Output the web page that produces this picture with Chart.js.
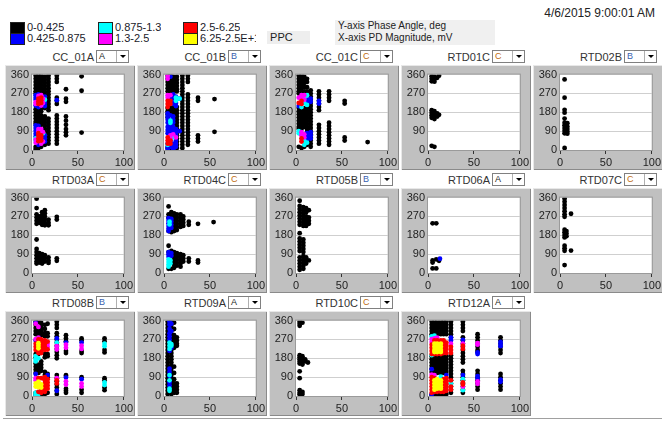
<!DOCTYPE html>
<html>
<head>
<meta charset="utf-8">
<script src="https://cdn.jsdelivr.net/npm/chart.js@4.4.1/dist/chart.umd.min.js"></script>
<style>
  body{margin:0;background:#fff;font-family:"Liberation Sans",Arial,sans-serif;}
  #page{position:relative;width:662px;height:421px;overflow:hidden;}
  .abs{position:absolute;}
  .sw{position:absolute;width:13px;height:10px;border:1px solid #222;}
  .lg{position:absolute;font-size:11px;color:#1a1a2a;line-height:12px;white-space:nowrap;overflow:hidden;}
  .ttl{position:absolute;width:80px;text-align:right;font-size:11px;color:#333;line-height:13px;}
  .dd{position:absolute;width:31px;height:11px;border:1px solid #808080;background:#fff;}
  .dd span{position:absolute;left:2px;top:0;font-size:9px;line-height:11px;}
  .dd i{position:absolute;right:0;top:0;width:11px;height:11px;border-left:1px solid #b0b0b0;}
  .dd i:after{content:"";position:absolute;left:3px;top:4px;border-left:3px solid transparent;border-right:3px solid transparent;border-top:3px solid #000;}
  .frame{position:absolute;width:130px;height:105px;background:#c0c0c0;box-shadow:inset 1px 1px 0 #e8e8e8, inset -1px -1px 0 #8a8a8a;}
  .frame canvas{position:absolute;left:0;top:0;}
</style>
</head>
<body>
<div id="page"></div>
<script>
// colour classes (PPC ranges)
const colorKeys = ["k", "b", "c", "m", "r", "y"];
const colorFill = { k: "#000000", b: "#0000ff", c: "#00ffff", m: "#ff00ff", r: "#ff0000", y: "#ffff00" };
const legendLabels = ["0-0.425", "0.425-0.875", "0.875-1.3", "1.3-2.5", "2.5-6.25", "6.25-2.5E+1"];

const panelNames = ["CC_01A", "CC_01B", "CC_01C", "RTD01C", "RTD02B",
                    "RTD03A", "RTD04C", "RTD05B", "RTD06A", "RTD07C",
                    "RTD08B", "RTD09A", "RTD10C", "RTD12A"];
const phaseSel = ["A", "B", "C", "C", "B", "C", "C", "B", "A", "C", "B", "A", "C", "A"];
const xTicks = [0, 50, 100];
const yTicks = [0, 90, 180, 270, 360];

// each entry: [PD magnitude mV, [phase angles deg]]
const cc01a = {
  k: [[4, [355, 340, 325, 310, 295, 280, 270, 195, 180, 165, 150, 135, 125, 15, 5]],
      [7, [355, 340, 325, 310, 295, 280, 270, 195, 180, 165, 150, 135, 125, 10]],
      [10, [355, 340, 325, 310, 295, 280, 270, 200, 185, 165, 150, 135, 120, 15]],
      [14, [350, 335, 320, 305, 290, 275, 260, 245, 230, 215, 200, 160, 145, 130, 115, 100, 85, 70, 55, 40, 25]],
      [18, [355, 340, 325, 310, 295, 280, 265, 250, 235, 220, 205, 190, 150, 135, 120, 105, 90, 75, 60, 45, 30]],
      [27, [355, 340, 325, 250, 235, 220, 165, 150, 135, 120, 105, 90, 75, 60, 45, 30]],
      [37, [290, 245, 230, 160, 140, 120, 100, 85, 70]],
      [54, [352, 283, 83]]],
  b: [[4, [262, 250, 240, 212, 118, 105, 92, 78, 65]], [14, [255, 240, 225, 210, 70, 55, 40]],
      [7, [265, 205, 115, 25]], [27, [238]]],
  c: [[4, [55, 45]], [12, [80]], [14, [240]]],
  m: [[4, [228, 220, 50, 35]], [7, [258, 100, 90]], [10, [262, 212, 100, 30]], [12, [245, 225, 85, 40]]],
  r: [[7, [245, 232, 220, 80, 68, 55, 42]], [10, [250, 238, 225, 70, 58, 45]]]
};
const cc01b = {
  k: [[4, [355, 340, 325, 310, 295, 280, 200, 185, 170, 155, 10]],
      [7, [355, 340, 325, 310, 295, 280, 270, 200, 185, 170, 10]],
      [10, [350, 335, 320, 305, 290, 275, 200, 190, 175, 160, 145, 130, 120, 15]],
      [14, [350, 335, 320, 305, 290, 280, 205, 190, 175, 160, 145, 130, 115, 100, 85, 70, 55, 40, 25, 10]],
      [20, [355, 340, 325, 310, 295, 280, 265, 250, 235, 220, 205, 190, 175, 160, 145, 130, 115, 100, 85, 70, 55, 40, 25, 10]],
      [26, [355, 340, 325, 265, 250, 235, 220, 205, 190, 175, 160, 145, 130, 115, 100, 85, 70, 55, 40, 25]],
      [37, [250, 235, 70, 55, 40]],
      [55, [243, 87]]],
  b: [[7, [350, 250, 165, 140, 110, 95, 80, 45, 30, 15]],
      [10, [265, 250, 235, 220, 160, 145, 130, 110, 95, 80, 30, 15, 5]],
      [13, [255, 240, 225, 210, 100, 85, 70, 45, 30, 15]],
      [4, [175, 160, 145, 130, 110, 95, 80, 30, 15, 5]], [17, [245, 90]]],
  c: [[13, [250, 235]], [17, [245]], [7, [140, 130]], [4, [25]], [10, [60]]],
  m: [[4, [355, 340, 262, 250]], [7, [262, 70, 55]], [10, [75]], [13, [60]]],
  r: [[4, [235, 220, 205, 60, 45, 30]], [7, [235, 220, 45, 30]]]
};
const cc01c = {
  k: [[3, [355, 340, 325, 310, 295, 280, 270, 200, 185, 170, 155, 140, 125, 110, 100, 15]],
      [6, [355, 340, 325, 310, 295, 280, 270, 200, 185, 170, 155, 140, 125, 110, 100, 10]],
      [9, [350, 335, 320, 300, 280, 270, 200, 185, 170, 155, 140, 125, 110, 15]],
      [12, [340, 325, 300, 280, 200, 185, 170, 155, 140, 125, 110, 100, 85, 70, 55, 40, 25]],
      [16, [285, 270, 255, 240, 225, 210, 195, 180, 165, 150, 135, 120, 105, 90, 75, 60, 45, 30, 15]],
      [25, [280, 265, 250, 235, 220, 205, 190, 120, 105, 90, 75, 60, 45, 30]],
      [36, [280, 265, 250, 235, 130, 115, 100, 85, 70, 55, 40, 25]],
      [53, [235, 222, 60, 45]],
      [78, [38]]],
  b: [[12, [240, 230, 80, 65, 50]], [16, [245, 230, 85, 70, 55]], [25, [235, 222]], [3, [210]]],
  c: [[9, [250, 225, 45, 25]], [12, [262, 215, 35]], [3, [90, 80]], [6, [205]]],
  m: [[6, [262, 250, 85, 70]], [9, [262, 240, 75, 60]], [3, [250]]],
  r: [[6, [235, 220, 55, 40]], [3, [225]]]
};
const rtd01c = {
  k: [[4, [352, 340, 328, 190, 178, 166, 154, 20]], [7, [350, 338, 326, 185, 172, 160, 148, 15]],
      [10, [345, 175, 160]], [12, [355, 168]]]
};
const rtd02b = {
  k: [[5, [337, 250, 192, 178, 150, 130, 118, 105, 92, 80, 10]], [8, [128, 112, 100, 88, 78]]]
};
const rtd03a = {
  k: [[5, [355, 310, 280, 265, 250, 235, 160, 115, 100, 85, 70, 55, 45]],
      [8, [270, 255, 240, 95, 80, 65, 50]],
      [11, [290, 275, 260, 245, 230, 90, 75, 60, 45]],
      [14, [300, 285, 270, 255, 240, 228, 85, 70, 55]],
      [18, [255, 240, 228, 75, 60, 48]],
      [27, [268, 255, 70, 58]]]
};
const rtd04c = {
  k: [[5, [318, 280, 265, 200, 130, 100, 20]], [8, [290, 270, 200, 195, 105, 20]],
      [11, [285, 270, 255, 240, 225, 210, 200, 100, 85, 70, 55, 40, 25]],
      [14, [280, 265, 250, 235, 220, 205, 95, 80, 65, 50, 35]],
      [18, [280, 265, 250, 235, 220, 90, 75, 60, 45, 30]],
      [21, [270, 255, 240, 225, 85, 70, 55]],
      [27, [245, 230, 70, 55]], [37, [235, 60, 50]], [54, [243]]],
  b: [[5, [262, 250, 238, 225, 212, 200, 100, 90, 78]], [8, [258, 245, 230, 215, 95, 82]]],
  c: [[6, [245, 232]], [5, [65, 52, 40, 30]], [7, [60, 45]]]
};
const rtd05b = {
  k: [[4, [345, 320, 305, 290, 275, 260, 245, 230, 190, 165, 150, 135, 120, 105, 75, 60, 45, 30, 15]],
      [8, [315, 300, 285, 270, 255, 240, 225, 160, 145, 130, 115, 100, 80, 65, 50, 35, 20]],
      [11, [310, 290, 270, 255, 240, 225, 75, 60, 45]],
      [14, [300, 265, 250, 235, 60]]]
};
const rtd06a = {
  k: [[5, [237, 60, 50, 22]], [9, [237, 65, 22]], [12, [58]]],
  b: [[13, [68]]]
};
const rtd07c = {
  k: [[5, [355, 340, 325, 310, 295, 280, 268, 207, 195, 182, 170, 130, 118, 106, 38]],
      [7, [200, 188, 176]], [12, [283, 107]]]
};
const rtd08b = {
  k: [[4, [355, 340, 325, 310, 295, 200, 185, 155, 140, 125, 110, 15, 5]],
      [7, [355, 330, 315, 300, 290, 200, 150, 135, 120, 110, 10]],
      [10, [350, 335, 320, 305, 290, 165, 150, 135, 120, 5]],
      [14, [340, 320, 300, 285, 200, 185, 115, 100, 10]],
      [17, [345, 300, 285, 200, 190, 105, 90, 15]],
      [27, [355, 340, 325, 300, 285, 270, 255, 240, 225, 210, 195, 180, 100, 85, 70, 55, 40, 25, 10]],
      [37, [290, 275, 262, 215, 205, 100, 95, 35, 25, 15]],
      [54, [275, 265, 215, 205, 90, 30, 15]],
      [79, [275, 262, 220, 208, 85, 75, 40, 28]]],
  b: [[4, [350, 265, 105]], [27, [275, 25]], [37, [255, 88]], [54, [255, 80]], [17, [100]]],
  c: [[4, [190, 175, 165, 15, 5]], [7, [180, 10]], [27, [255]], [79, [250, 238, 65, 52]]],
  m: [[4, [345, 272, 85, 75]], [7, [278, 330]], [17, [250, 235]], [27, [238, 222, 85]],
      [37, [245, 230, 70, 55]], [54, [240, 225, 60, 45]]],
  r: [[4, [250, 235, 220]], [7, [270, 215, 205, 85, 20]],
      [10, [270, 260, 245, 230, 215, 205, 85, 25, 15]],
      [14, [265, 250, 235, 220, 90, 75, 60, 45, 30, 20]],
      [17, [260, 222, 80, 65, 50, 35]], [27, [75, 60]]],
  y: [[7, [252, 240, 228, 68, 55, 42]], [10, [55, 40]], [4, [60, 45]]]
};
const rtd09a = {
  k: [[4, [355, 340, 325, 310, 295, 280, 265, 250, 235, 220, 205, 190, 175, 160, 145, 130, 115, 100, 85, 70, 55, 40, 25, 10]],
      [8, [355, 340, 325, 310, 295, 280, 265, 250, 235, 220, 205, 190, 175, 160, 145, 130, 115, 100, 85, 70, 55, 40, 25, 10]],
      [11, [350, 320, 290, 275, 260, 245, 230, 140, 110, 80, 60, 45, 30, 15]],
      [14, [280, 265, 250, 240, 60, 45, 30, 15]]],
  b: [[6, [355, 340, 320, 300, 285, 270, 215, 130, 115, 95, 65, 50]], [8, [345, 310, 230]]],
  c: [[6, [255, 240, 225, 100, 75, 35, 25]], [8, [248, 240]]]
};
const rtd10c = {
  k: [[4, [355, 345, 335, 195, 185, 175, 165, 155, 118, 85, 28, 15, 8]],
      [7, [350, 190, 180, 170, 160, 150, 20, 10]], [10, [175, 165]], [13, [160]]]
};
const rtd12a = {
  k: [[4, [355, 340, 325, 310, 295, 190, 175, 160, 145, 130, 115, 5]],
      [7, [355, 340, 325, 310, 295, 180, 165, 150, 135, 120, 5]],
      [10, [355, 340, 325, 310, 295, 185, 170, 155, 140, 125, 110, 5]],
      [14, [355, 340, 325, 310, 295, 185, 170, 155, 140, 125, 110, 5]],
      [17, [355, 340, 325, 310, 295, 185, 170, 155, 140, 125, 110, 10]],
      [20, [355, 340, 325, 310, 295, 190, 175, 160, 145, 130, 115, 10]],
      [25, [355, 340, 325, 310, 295, 280, 195, 180, 165, 150, 135, 120, 105, 90, 75, 60, 45, 30, 15]],
      [38, [355, 340, 325, 310, 280, 265, 250, 235, 220, 205, 190, 175, 160, 120, 105, 90, 75, 60, 45, 30, 15]],
      [54, [295, 280, 265, 250, 235, 220, 210, 120, 105, 90, 75, 60, 45, 30]],
      [79, [280, 265, 250, 235, 220, 205, 105, 90, 75, 60, 45, 30]]],
  b: [[25, [278, 265]], [38, [268, 100]], [54, [208, 200, 95, 85]], [79, [258, 248, 238, 78, 68]],
      [4, [128, 8]], [20, [100]]],
  c: [[4, [285, 195]], [7, [288, 90]], [14, [92]], [25, [60]], [38, [80, 28]]],
  m: [[4, [272, 258, 102]], [7, [275, 100]], [10, [278]], [25, [250]], [38, [250, 45]],
      [54, [252, 245, 70, 58]]],
  r: [[4, [245, 230, 215, 200, 90, 75, 60, 45, 30, 15]], [7, [265, 200, 85, 20]], [10, [265, 200, 20]],
      [14, [265, 200, 20]], [17, [265, 250, 235, 220, 205, 80, 65, 50, 35, 20]],
      [20, [255, 240, 225, 205, 85, 70, 55, 40, 25]], [25, [235, 220, 205, 75, 45, 30]],
      [38, [240, 225, 65, 55]]],
  y: [[7, [250, 235, 220, 210, 75, 60, 45, 30]], [10, [250, 235, 220, 210, 80, 65, 50, 35]],
      [14, [250, 235, 220, 210, 75, 60, 45, 35]]]
};

const panels = [cc01a, cc01b, cc01c, rtd01c, rtd02b, rtd03a, rtd04c, rtd05b, rtd06a, rtd07c,
                rtd08b, rtd09a, rtd10c, rtd12a];

const page = document.getElementById("page");
const FONT = "'Liberation Sans', Arial, sans-serif";

function el(cls, css, html){
  const d = document.createElement("div");
  if(cls) d.className = cls;
  Object.assign(d.style, css);
  if(html !== undefined) d.innerHTML = html;
  page.appendChild(d);
  return d;
}

function toPoints(cols){
  const pts = [];
  (cols || []).forEach(([x, ys]) => ys.forEach(y => pts.push({ x: x, y: y })));
  return pts;
}

/* legend + header */
const swX = [10, 98, 183];
const swY = [22, 33];
legendLabels.forEach((lab, i) => {
  const c = Math.floor(i / 2), r = i % 2;
  el("sw", { left: swX[c] + "px", top: swY[r] + "px", background: colorFill[colorKeys[i]] });
  el("lg", { left: (swX[c] + 17) + "px", top: (swY[r] - 1) + "px", width: i == 5 ? "56px" : "auto" }, lab);
});
el("abs", { left: "267px", top: "31px", width: "43px", height: "13px", background: "#eeeeee",
            fontSize: "11px", lineHeight: "12px", color: "#222" }, "&nbsp;PPC");
el("abs", { left: "335px", top: "20px", width: "160px", height: "25px", background: "#f0f0f0",
            fontSize: "10px", lineHeight: "12px", color: "#222", paddingLeft: "3px", boxSizing: "border-box" },
   "Y-axis Phase Angle, deg<br>X-axis PD Magnitude, mV");
el("abs", { right: "7px", top: "6px", fontSize: "12px", color: "#222" }, "4/6/2015 9:00:01 AM");
el("abs", { left: "3px", top: "418px", width: "659px", height: "1px", background: "#a0a0a0" });

/* plot area background and border */
const plotBg = {
  id: "plotBg",
  beforeDraw(chart){
    const { ctx, chartArea: a } = chart;
    ctx.save();
    ctx.fillStyle = "#ffffff";
    ctx.fillRect(a.left, a.top, a.right - a.left, a.bottom - a.top);
    ctx.restore();
  },
  afterDraw(chart){
    const { ctx, chartArea: a } = chart;
    ctx.save();
    ctx.strokeStyle = "#9a9a9a";
    ctx.lineWidth = 1;
    ctx.strokeRect(a.left - 0.5, a.top - 0.5, a.right - a.left + 1, a.bottom - a.top + 1);
    ctx.restore();
  }
};

const frameLeft = [5, 137, 269, 401, 533];
const frameTop = [65, 188, 311];

panels.forEach((data, i) => {
  const row = Math.floor(i / 5), col = i % 5;
  const L = frameLeft[col], T = frameTop[row];

  el("ttl", { left: (L + 9) + "px", top: (T - 14) + "px" }, panelNames[i]);
  const ph = phaseSel[i];
  const phColor = ph == "A" ? "#222" : (ph == "B" ? "#3a5fb0" : "#c06a10");
  el("dd", { left: (L + 91) + "px", top: (T - 15) + "px" },
     `<span style="color:${phColor}">${ph}</span><i></i>`);

  const fr = el("frame", { left: L + "px", top: T + "px" });
  const cv = document.createElement("canvas");
  cv.width = 130; cv.height = 105;
  fr.appendChild(cv);

  new Chart(cv, {
    type: "scatter",
    data: {
      datasets: colorKeys.map((k, j) => ({
        data: toPoints(data[k]),
        backgroundColor: colorFill[k],
        borderWidth: 0,
        pointRadius: 2.4,
        order: colorKeys.length - j
      }))
    },
    options: {
      responsive: false,
      animation: false,
      events: [],
      layout: { padding: { top: 6, right: 9, left: 0, bottom: 0 } },
      plugins: { legend: { display: false }, tooltip: { enabled: false } },
      scales: {
        x: {
          type: "linear", min: 0, max: 100,
          afterBuildTicks: s => { s.ticks = xTicks.map(v => ({ value: v })); },
          afterFit: s => { s.height = 20; },
          ticks: { color: "#222", font: { size: 11, family: FONT }, padding: 2, maxRotation: 0 },
          grid: { drawOnChartArea: false, color: "#333", tickLength: 4 },
          border: { display: false }
        },
        y: {
          min: 0, max: 360,
          afterBuildTicks: s => { s.ticks = yTicks.map(v => ({ value: v })); },
          afterFit: s => { s.width = 27; },
          ticks: { color: "#222", font: { size: 11, family: FONT }, padding: 3 },
          grid: {
            drawTicks: false,
            color: c => (c.tick && (c.tick.value == 0 || c.tick.value == 360)) ? "rgba(0,0,0,0)" : "#cfcfcf"
          },
          border: { display: false }
        }
      }
    },
    plugins: [plotBg]
  });
});
</script>
</body>
</html>
